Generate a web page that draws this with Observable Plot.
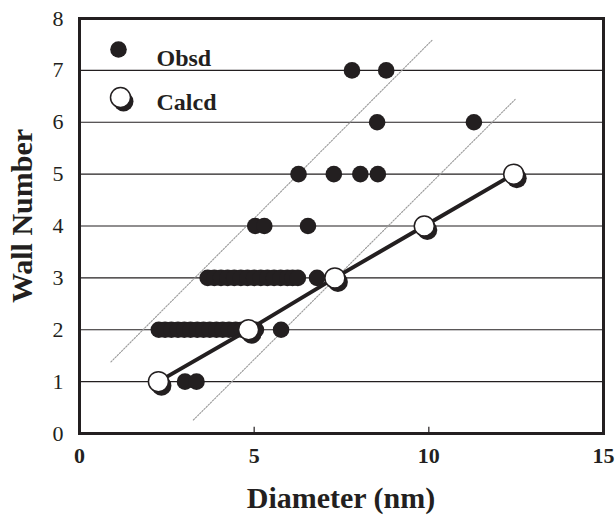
<!DOCTYPE html>
<html>
<head>
<meta charset="utf-8">
<script src="https://cdn.jsdelivr.net/npm/d3@7"></script>
<script src="https://cdn.jsdelivr.net/npm/@observablehq/plot@0.6"></script>
<style>
  html, body { margin: 0; padding: 0; background: #fff; }
  #chart { width: 615px; height: 518px; }
</style>
</head>
<body>
<div id="chart"></div>
<script>
// Observed wall numbers vs diameter (nm)
const obsdX = [
  // wall 1
  3.02, 3.35,
  // wall 2
  2.27, 2.45, 2.63, 2.82, 3.0, 3.18, 3.37, 3.55, 3.73, 3.92, 4.1, 4.28, 4.47, 4.65, 4.85, 5.05, 5.77,
  // wall 3
  3.67, 3.86, 4.05, 4.24, 4.43, 4.62, 4.81, 5.0, 5.19, 5.38, 5.57, 5.76, 5.95, 6.1, 6.25, 6.8,
  // wall 4
  5.03, 5.29, 6.54,
  // wall 5
  6.27, 7.28, 8.04, 8.54,
  // wall 6
  8.52, 11.29,
  // wall 7
  7.8, 8.78
];
const obsdY = [
  1, 1,
  2, 2, 2, 2, 2, 2, 2, 2, 2, 2, 2, 2, 2, 2, 2, 2, 2,
  3, 3, 3, 3, 3, 3, 3, 3, 3, 3, 3, 3, 3, 3, 3, 3,
  4, 4, 4,
  5, 5, 5, 5,
  6, 6,
  7, 7
];
// Calculated wall numbers
const calcdX = [2.26, 4.84, 7.31, 9.87, 12.43];
const calcdY = [1, 2, 3, 4, 5];
// Dotted guide lines
const upperGuideX = [0.9, 10.09];
const upperGuideY = [1.38, 7.58];
const lowerGuideX = [3.26, 12.47];
const lowerGuideY = [0.26, 6.44];
// Axes
const xTicks = [0, 5, 10, 15];
const xInnerTicks = [5, 10];
const yTicks = [0, 1, 2, 3, 4, 5, 6, 7, 8];
const gridY = [1, 2, 3, 4, 5, 6, 7];
const xTitle = "Diameter (nm)";
const yTitle = "Wall Number";
const legendLabels = ["Obsd", "Calcd"];

const obsd = obsdX.map((x, i) => ({x, y: obsdY[i]}));
const calcd = calcdX.map((x, i) => ({x, y: calcdY[i]}));
const upper = upperGuideX.map((x, i) => ({x, y: upperGuideY[i]}));
const lower = lowerGuideX.map((x, i) => ({x, y: lowerGuideY[i]}));

const serif = "'Liberation Serif', 'Times New Roman', serif";
const ink = "#231f20";

const svg = Plot.plot({
  width: 615,
  height: 518,
  marginLeft: 79,
  marginRight: 12,
  marginTop: 18,
  marginBottom: 85,
  style: {background: "#fff", fontFamily: serif},
  x: {domain: [0, 15]},
  y: {domain: [0, 8]},
  marks: [
    Plot.ruleY(gridY, {stroke: ink, strokeWidth: 1.2}),
    Plot.line(upper, {x: "x", y: "y", stroke: "#9a9a9a", strokeWidth: 1.1, strokeDasharray: "1.5,1.5"}),
    Plot.line(lower, {x: "x", y: "y", stroke: "#9a9a9a", strokeWidth: 1.1, strokeDasharray: "1.5,1.5"}),
    Plot.dot(obsd, {x: "x", y: "y", r: 8.3, fill: ink, stroke: "none"}),
    Plot.line(calcd, {x: "x", y: "y", stroke: ink, strokeWidth: 4}),
    Plot.dot(calcd, {x: "x", y: "y", r: 10, fill: ink, stroke: "none", dx: 3, dy: 4}),
    Plot.dot(calcd, {x: "x", y: "y", r: 10, fill: "#fff", stroke: ink, strokeWidth: 1.5}),
    Plot.ruleX(xInnerTicks, {y1: 0, y2: 0.12, stroke: ink, strokeWidth: 1.2}),
    // legend
    Plot.dot([legendLabels[0]], {frameAnchor: "top-left", dx: 39, dy: 31, r: 8.3, fill: ink, stroke: "none"}),
    Plot.text([legendLabels[0]], {frameAnchor: "top-left", dx: 77, dy: 30, text: d => d, textAnchor: "start", fontSize: 24, fontWeight: "bold", fontFamily: serif, fill: ink}),
    Plot.dot([legendLabels[1]], {frameAnchor: "top-left", dx: 44, dy: 83, r: 10, fill: ink, stroke: "none"}),
    Plot.dot([legendLabels[1]], {frameAnchor: "top-left", dx: 41, dy: 79, r: 10, fill: "#fff", stroke: ink, strokeWidth: 1.5}),
    Plot.text([legendLabels[1]], {frameAnchor: "top-left", dx: 77, dy: 74, text: d => d, textAnchor: "start", fontSize: 24, fontWeight: "bold", fontFamily: serif, fill: ink}),
    Plot.frame({stroke: ink, strokeWidth: 3}),
    Plot.axisX({ticks: xTicks, tickSize: 0, tickPadding: 14, label: null, fontSize: 22, fontWeight: "bold", fontFamily: serif, fill: ink}),
    Plot.axisY({ticks: yTicks, tickSize: 0, tickPadding: 16, label: null, fontSize: 22, fontFamily: serif, fill: ink})
  ]
});

const s = d3.select(svg);
s.append("text")
  .attr("x", 341).attr("y", 508)
  .attr("text-anchor", "middle")
  .attr("font-family", serif).attr("font-size", 30).attr("font-weight", "bold")
  .attr("fill", ink)
  .text(xTitle);
s.append("text")
  .attr("transform", "translate(32,216) rotate(-90)")
  .attr("text-anchor", "middle")
  .attr("font-family", serif).attr("font-size", 30).attr("font-weight", "bold")
  .attr("fill", ink)
  .text(yTitle);

document.getElementById("chart").appendChild(svg);
</script>
</body>
</html>
